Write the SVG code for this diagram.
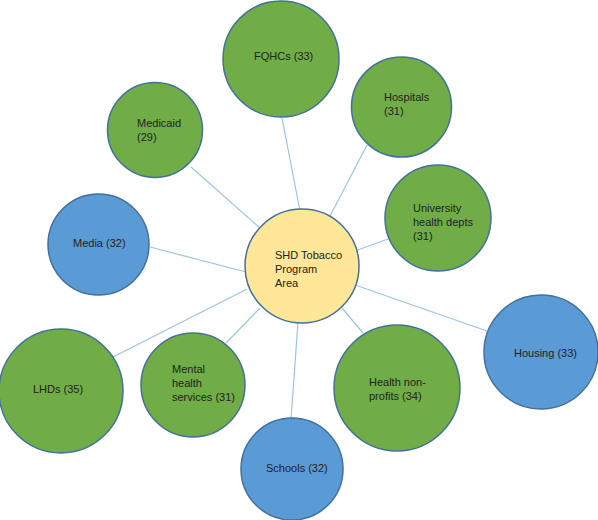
<svg xmlns="http://www.w3.org/2000/svg" width="598" height="520" viewBox="0 0 598 520">
<style>
.n{stroke:#41719C;stroke-width:1.5}
.g{fill:#70AD47}
.b{fill:#5B9BD5}
.y{fill:#FFE699}
text{font-family:"Liberation Sans",Arial,sans-serif;font-size:11px;fill:#222}
#edges line{stroke:#9DC3E6;stroke-width:1.2}
</style>
<rect width="598" height="520" fill="#fff"/>
<g id="edges">
<line x1="191" y1="167" x2="260" y2="228"/>
<line x1="282" y1="118" x2="300" y2="211"/>
<line x1="367" y1="145" x2="329" y2="218"/>
<line x1="388" y1="239" x2="355" y2="251"/>
<line x1="150" y1="247" x2="246" y2="272"/>
<line x1="113" y1="357" x2="247" y2="289"/>
<line x1="226" y1="343" x2="260" y2="308"/>
<line x1="291" y1="419" x2="298" y2="322"/>
<line x1="363" y1="333" x2="342" y2="308"/>
<line x1="487" y1="331" x2="355" y2="285"/>
</g>
<g id="fqhcs"><circle class="n g" cx="281" cy="59" r="58"/><text x="254" y="60">FQHCs (33)</text></g>
<g id="medicaid"><circle class="n g" cx="155" cy="130" r="47.5"/><text x="137" y="127">Medicaid</text><text x="137" y="141">(29)</text></g>
<g id="hospitals"><circle class="n g" cx="401.5" cy="107" r="50"/><text x="384" y="101">Hospitals</text><text x="384" y="115">(31)</text></g>
<g id="university"><circle class="n g" cx="438" cy="218" r="53"/><text x="413" y="212">University</text><text x="413" y="226">health depts</text><text x="413" y="240">(31)</text></g>
<g id="media"><circle class="n b" cx="98.5" cy="244.5" r="50.5"/><text x="73" y="247">Media (32)</text></g>
<g id="shd"><circle class="n y" cx="302" cy="266" r="57"/><text x="275" y="259">SHD Tobacco</text><text x="275" y="273">Program</text><text x="275" y="287">Area</text></g>
<g id="lhds"><circle class="n g" cx="61" cy="391" r="62"/><text x="33" y="393">LHDs (35)</text></g>
<g id="mental"><circle class="n g" cx="193" cy="385" r="52"/><text x="172" y="373">Mental</text><text x="172" y="387">health</text><text x="172" y="401">services (31)</text></g>
<g id="nonprofits"><circle class="n g" cx="397" cy="388" r="63"/><text x="369" y="386">Health non-</text><text x="369" y="400">profits (34)</text></g>
<g id="housing"><circle class="n b" cx="541" cy="352" r="57"/><text x="514" y="357">Housing (33)</text></g>
<g id="schools"><circle class="n b" cx="292" cy="469" r="51"/><text x="266" y="472">Schools (32)</text></g>
</svg>
